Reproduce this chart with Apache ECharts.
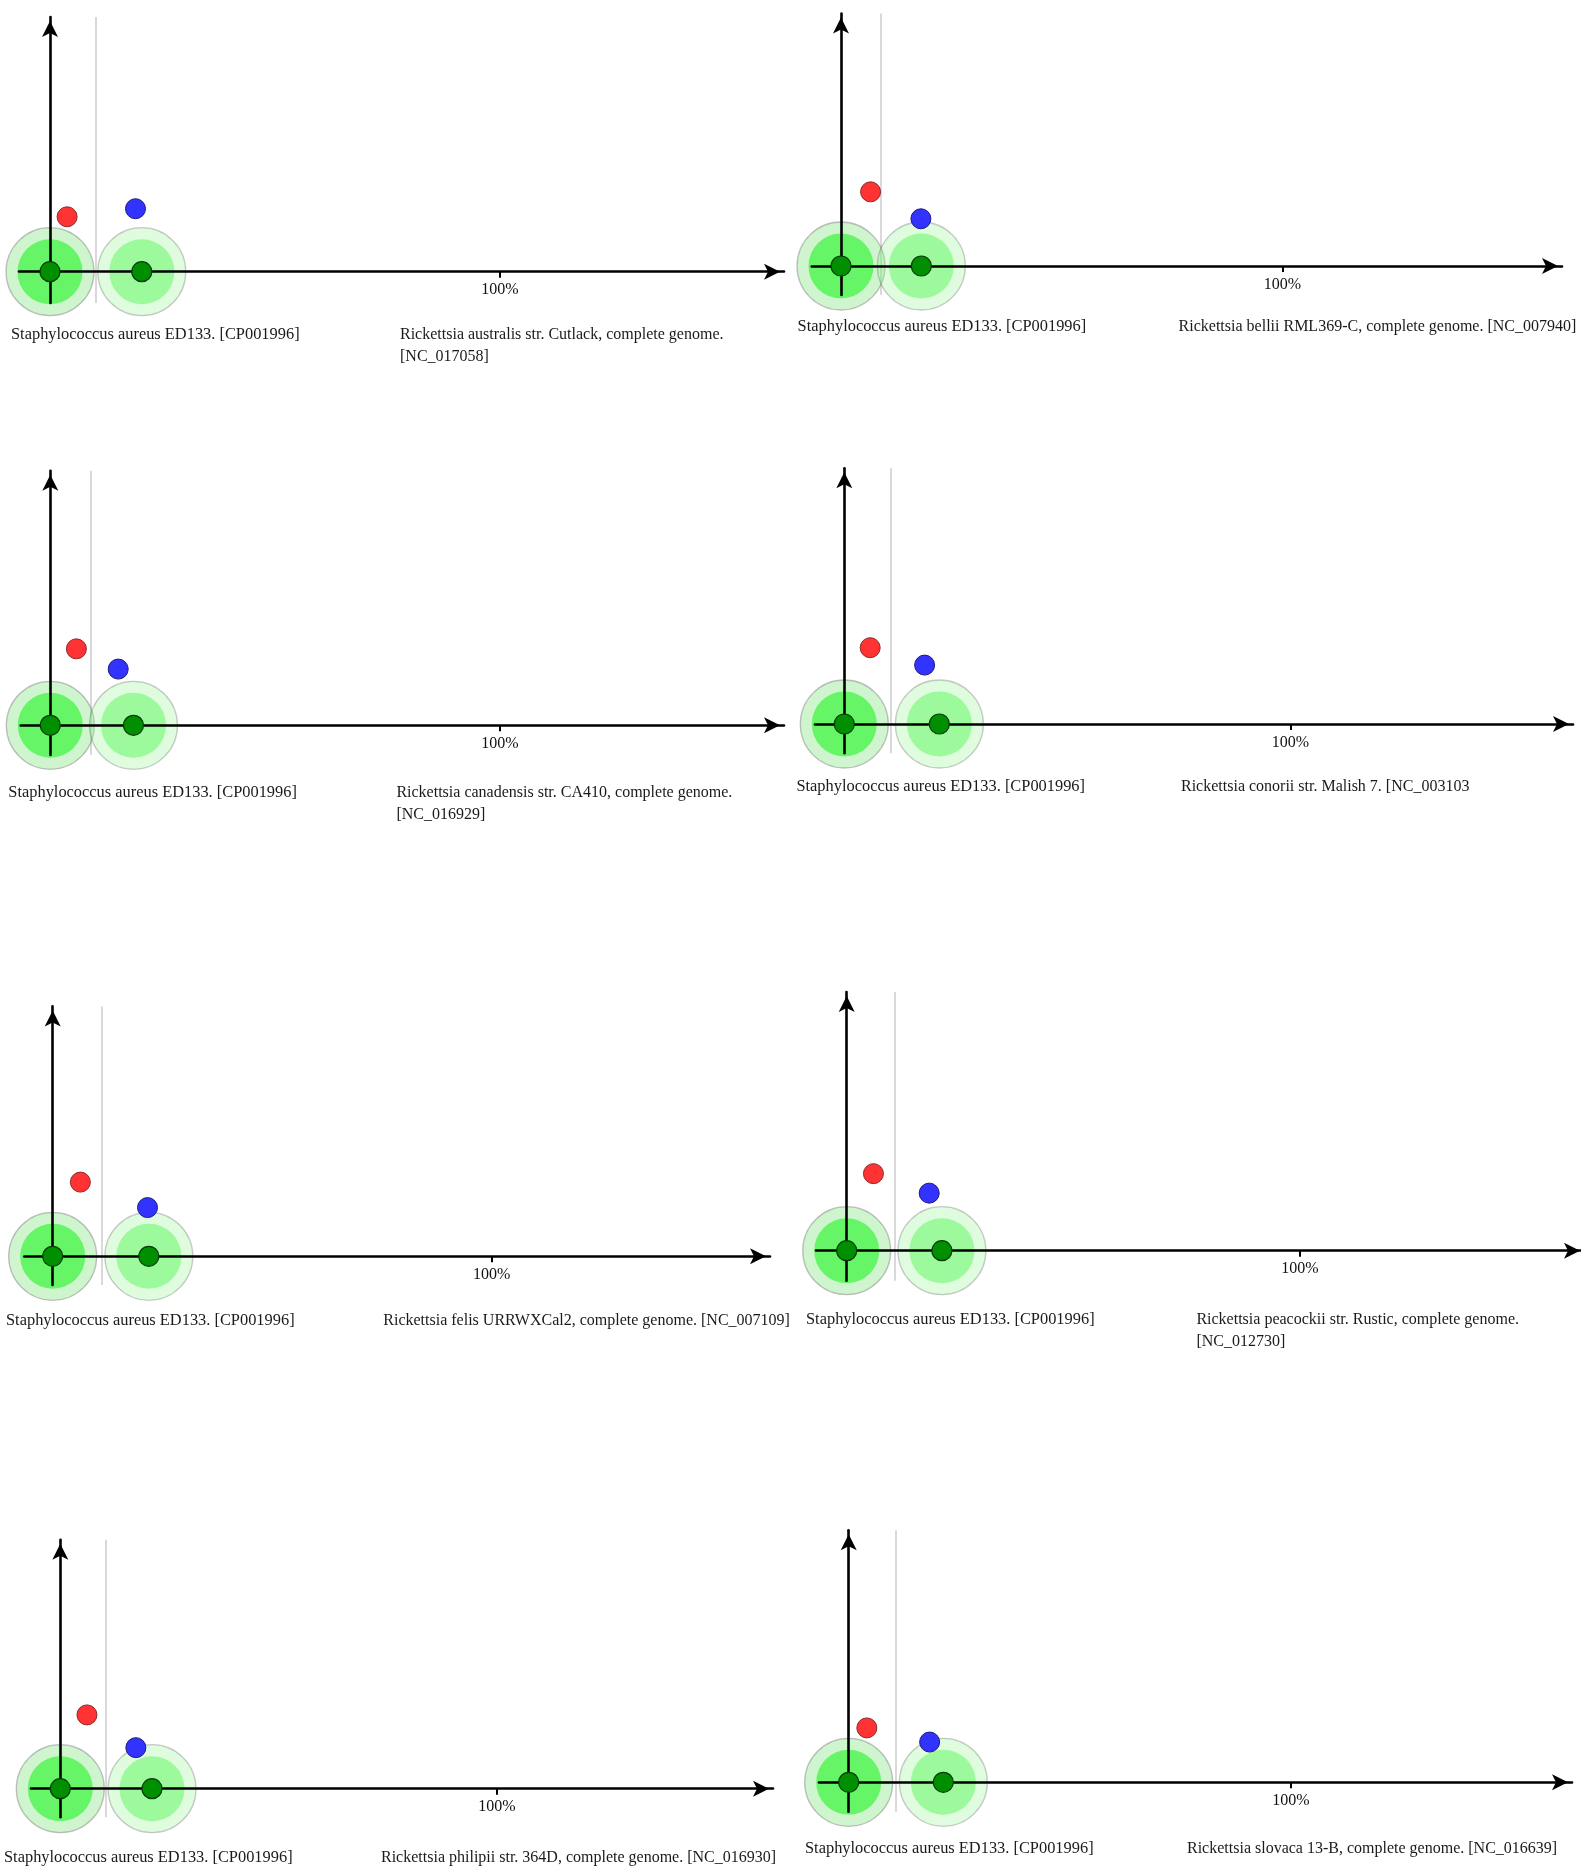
<!DOCTYPE html>
<html>
<head>
<meta charset="utf-8">
<script src="https://cdn.jsdelivr.net/npm/echarts@6/dist/echarts.min.js"></script>
<style>
html,body{margin:0;padding:0;background:#fff;}
#chart{width:1581px;height:1867px;}
</style>
</head>
<body>
<div id="chart"></div>
<script>
// ---------------- data ----------------
const refGenome = 'Staphylococcus aureus ED133. [CP001996]';
const compareGenomes = [
  'Rickettsia australis str. Cutlack, complete genome.\n[NC_017058]',
  'Rickettsia bellii RML369-C, complete genome. [NC_007940]',
  'Rickettsia canadensis str. CA410, complete genome.\n[NC_016929]',
  'Rickettsia conorii str. Malish 7. [NC_003103',
  'Rickettsia felis URRWXCal2, complete genome. [NC_007109]',
  'Rickettsia peacockii str. Rustic, complete genome.\n[NC_012730]',
  'Rickettsia philipii str. 364D, complete genome. [NC_016930]',
  'Rickettsia slovaca 13-B, complete genome. [NC_016639]'
];
const circle2X = [20.4, 18.2, 18.5, 21.3, 21.9, 21.0, 21.0, 21.4];
const redX  = [3.8, 6.7, 5.8, 5.8, 6.3, 5.9, 6.1, 4.1];
const redY  = [12.2, 16.8, 17.0, 17.1, 16.9, 17.0, 16.9, 12.3];
const blueX = [19.0, 18.1, 15.1, 18.0, 21.6, 18.2, 17.3, 18.3];
const blueY = [14.0, 10.7, 12.5, 13.2, 11.1, 12.7, 9.4, 9.1];
const refLineX = [10.2, 9.1, 9.1, 10.5, 11.1, 10.5, 10.3, 10.7];
const tickValues = [100];

// ---------------- layout (pixels) ----------------
const W = 1581, H = 1867;
const layout = [
  {ox:50,    oy:271.7,  tick:500,    xStart:19,    xTip:788,  yTip:13,     yBottom:303,    labelY:335,    leftX:11,    rightX:400},
  {ox:841,   oy:266,    tick:1282.4, xStart:811.7, xTip:1566, yTip:9.5,    yBottom:295,    labelY:327,    leftX:797.6, rightX:1178.6},
  {ox:50.3,  oy:725.3,  tick:500,    xStart:20.7,  xTip:788,  yTip:466.7,  yBottom:755,    labelY:792.5,  leftX:8.3,   rightX:396.4},
  {ox:844.3, oy:724,    tick:1290.5, xStart:815,   xTip:1577, yTip:464.3,  yBottom:753.3,  labelY:786.5,  leftX:796.4, rightX:1181},
  {ox:52.7,  oy:1256.3, tick:491.7,  xStart:24.3,  xTip:774,  yTip:1002.4, yBottom:1285,   labelY:1321,   leftX:6,     rightX:383.3},
  {ox:846.7, oy:1250.7, tick:1300,   xStart:816,   xTip:1588, yTip:988,    yBottom:1280.7, labelY:1320,   leftX:806,   rightX:1196.4},
  {ox:60.3,  oy:1788.7, tick:497,    xStart:31,    xTip:777,  yTip:1535.7, yBottom:1817.3, labelY:1858,   leftX:4,     rightX:381},
  {ox:848.7, oy:1782.3, tick:1291,   xStart:819,   xTip:1576, yTip:1526.2, yBottom:1811.7, labelY:1849,   leftX:805,   rightX:1187}
];

const FONT = 'Liberation Serif';
const ARROW_W = 12, ARROW_H = 16, ARROW_BACK = 4;
const grids = [], xAxes = [], yAxes = [], series = [], titles = [];

layout.forEach(function (L, i) {
  const s = (L.tick - L.ox) / 100;
  const xEnd = L.xTip - ARROW_BACK;
  const top = L.yTip + ARROW_BACK;
  const arrowOffset = [0, ARROW_BACK - ARROW_H / 2];
  grids.push({
    left: L.xStart, right: W - xEnd, top: top, bottom: H - L.yBottom,
    containLabel: false, outerBoundsMode: 'none'
  });
  xAxes.push({
    type: 'value', gridIndex: i, z: 3,
    min: (L.xStart - L.ox) / s, max: (xEnd - L.ox) / s,
    axisLine: {show: true, onZero: true, symbol: ['none', 'arrow'], symbolSize: [ARROW_W, ARROW_H],
      symbolOffset: arrowOffset, lineStyle: {color: '#000', width: 2.6}},
    axisTick: {show: true, customValues: tickValues, length: 6, lineStyle: {color: '#000', width: 2}},
    axisLabel: {show: true, customValues: tickValues, formatter: '{value}%',
      fontFamily: FONT, fontSize: 16, color: '#111', margin: 10.5 - (L.yBottom - L.oy)},
    splitLine: {show: false}
  });
  yAxes.push({
    type: 'value', gridIndex: i, z: 3,
    min: -(L.yBottom - L.oy) / s, max: (L.oy - top) / s,
    axisLine: {show: true, onZero: true, symbol: ['none', 'arrow'], symbolSize: [ARROW_W, ARROW_H],
      symbolOffset: arrowOffset, lineStyle: {color: '#000', width: 2.6}},
    axisTick: {show: false}, axisLabel: {show: false}, splitLine: {show: false}
  });
  series.push({
    type: 'scatter', xAxisIndex: i, yAxisIndex: i, z: 1, silent: true,
    symbolSize: 88,
    data: [
      {value: [0, 0], itemStyle: {opacity: 1, color: 'rgba(110,225,110,0.33)', borderColor: 'rgba(110,110,110,0.42)', borderWidth: 1.3}},
      {value: [circle2X[i], 0], itemStyle: {opacity: 1, color: 'rgba(150,245,150,0.3)', borderColor: 'rgba(110,110,110,0.36)', borderWidth: 1.3}}
    ],
    markLine: {
      silent: true, symbol: 'none', z: 1, animation: false,
      label: {show: false},
      lineStyle: {color: '#cdcdcd', width: 1.5, type: 'solid'},
      emphasis: {disabled: true},
      data: [{xAxis: refLineX[i]}]
    }
  });
  series.push({
    type: 'scatter', xAxisIndex: i, yAxisIndex: i, z: 1, silent: true,
    symbolSize: 65,
    data: [
      {value: [0, 0], itemStyle: {opacity: 1, color: '#66f566'}},
      {value: [circle2X[i], 0], itemStyle: {opacity: 1, color: '#9cf99c'}}
    ]
  });
  series.push({
    type: 'scatter', xAxisIndex: i, yAxisIndex: i, z: 5, silent: true,
    symbolSize: 20,
    itemStyle: {opacity: 1, color: '#008f00', borderColor: '#0a3a0a', borderWidth: 1.2},
    data: [[0, 0], [circle2X[i], 0]]
  });
  series.push({
    type: 'scatter', xAxisIndex: i, yAxisIndex: i, z: 5, silent: true,
    symbolSize: 20,
    itemStyle: {opacity: 1, color: '#ff3333', borderColor: '#8a2b2b', borderWidth: 1},
    data: [[redX[i], redY[i]]]
  });
  series.push({
    type: 'scatter', xAxisIndex: i, yAxisIndex: i, z: 5, silent: true,
    symbolSize: 20,
    itemStyle: {opacity: 1, color: '#3333ff', borderColor: '#1c1c7a', borderWidth: 1},
    data: [[blueX[i], blueY[i]]]
  });
  const tsLeft = {fontFamily: FONT, fontSize: 16.4, fontWeight: 'normal', color: '#1a1a1a', lineHeight: 22};
  const tsRight = {fontFamily: FONT, fontSize: 16, fontWeight: 'normal', color: '#1a1a1a', lineHeight: 22};
  titles.push({text: refGenome, left: L.leftX, top: L.labelY - 11, padding: 0, textStyle: tsLeft});
  titles.push({text: compareGenomes[i], left: L.rightX, top: L.labelY - 11, padding: 0, textStyle: tsRight});
});

const chart = echarts.init(document.getElementById('chart'), null, {renderer: 'canvas'});
chart.setOption({
  animation: false,
  backgroundColor: '#fff',
  title: titles,
  grid: grids,
  xAxis: xAxes,
  yAxis: yAxes,
  series: series
});
</script>
</body>
</html>
